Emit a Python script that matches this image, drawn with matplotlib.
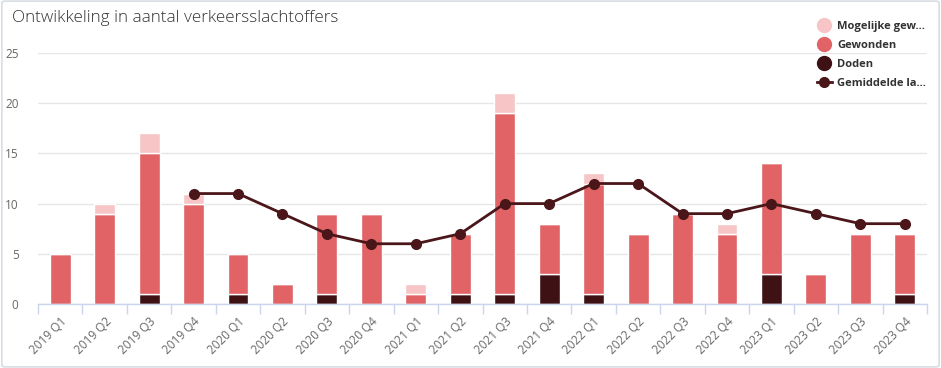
import matplotlib
matplotlib.use('Agg')
import matplotlib.pyplot as plt
from matplotlib.patches import FancyBboxPatch
from matplotlib.lines import Line2D
import numpy as np

plt.rcParams['font.family'] = 'Open Sans'

quarters = ['2019 Q1', '2019 Q2', '2019 Q3', '2019 Q4',
            '2020 Q1', '2020 Q2', '2020 Q3', '2020 Q4',
            '2021 Q1', '2021 Q2', '2021 Q3', '2021 Q4',
            '2022 Q1', '2022 Q2', '2022 Q3', '2022 Q4',
            '2023 Q1', '2023 Q2', '2023 Q3', '2023 Q4']
doden = [0, 0, 1, 0, 1, 0, 1, 0, 0, 1, 1, 3, 1, 0, 0, 0, 3, 0, 0, 1]
gewonden = [5, 9, 14, 10, 4, 2, 8, 9, 1, 6, 18, 5, 11, 7, 9, 7, 11, 3, 7, 6]
mogelijk = [0, 1, 2, 1, 0, 0, 0, 0, 1, 0, 2, 0, 1, 0, 0, 1, 0, 0, 0, 0]
# rolling average starts at 2019 Q4
gemiddelde = [None, None, None, 11, 11, 9, 7, 6, 6, 7, 10, 10, 12, 12, 9, 9, 10, 9, 8, 8]

C_MOG = '#f8c5c7'
C_GEW = '#e16365'
C_DOD = '#3e1215'
C_LINE = '#4a1619'
AXIS_C = '#ccd6eb'

fig = plt.figure(figsize=(9.41, 3.68), dpi=100)
fig.patches.append(FancyBboxPatch((0.002, 0.003), 0.996, 0.994,
                                  boxstyle='round,pad=0,rounding_size=0.004',
                                  transform=fig.transFigure, fc='white',
                                  ec='#d8dde3', lw=1.2, zorder=-1))
ax = fig.add_axes([38 / 941, 1 - 304 / 368, (927 - 38) / 941, (304 - 53) / 368])
ax.set_facecolor('none')

x = np.arange(len(quarters))
d = np.array(doden)
g = np.array(gewonden)
m = np.array(mogelijk)
w = 0.47
kw = dict(width=w, edgecolor='white', linewidth=1, zorder=2)
ax.bar(x, d, color=C_DOD, **kw)
ax.bar(x, g, bottom=d, color=C_GEW, **kw)
ax.bar(x, m, bottom=d + g, color=C_MOG, **kw)

gx = [i for i, v in enumerate(gemiddelde) if v is not None]
gy = [v for v in gemiddelde if v is not None]
ax.plot(gx, gy, color=C_LINE, lw=2, marker='o', ms=7, zorder=4)

ax.set_xlim(-0.5, len(quarters) - 0.5)
ax.set_ylim(0, 25)
ax.set_yticks([0, 5, 10, 15, 20, 25])
ax.grid(axis='y', color='#e6e6e6', lw=1, zorder=0)
ax.set_axisbelow(True)
for s in ['top', 'right', 'left']:
    ax.spines[s].set_visible(False)
ax.spines['bottom'].set_color(AXIS_C)
ax.spines['bottom'].set_linewidth(1)

ax.set_xticks(x)
ax.set_xticklabels(quarters, rotation=45, ha='right', va='top',
                   rotation_mode='anchor', fontsize=8.5, color='#666666')
ax.tick_params(axis='x', which='major', length=0, pad=8)
ax.set_xticks(np.arange(-0.5, len(quarters)), minor=True)
ax.tick_params(axis='x', which='minor', length=7, color=AXIS_C, width=1)
ax.tick_params(axis='y', length=0, labelsize=8.5, labelcolor='#666666', pad=14)

fig.text(12 / 941, 1 - 18 / 368, 'Ontwikkeling in aantal verkeersslachtoffers',
         fontsize=12.3, color='#333333', va='center', ha='left', fontweight='light')

handles = [
    Line2D([], [], ls='none', marker='o', ms=10, color=C_MOG),
    Line2D([], [], ls='none', marker='o', ms=10, color=C_GEW),
    Line2D([], [], ls='none', marker='o', ms=10, color=C_DOD),
    Line2D([], [], color=C_LINE, lw=2, marker='o', ms=7),
]
labels = ['Mogelijke gew...', 'Gewonden', 'Doden', 'Gemiddelde la...']
leg = fig.legend(handles, labels, loc='upper right', bbox_to_anchor=(926 / 941, 1 - 21 / 368),
                 frameon=False, prop={'size': 8, 'weight': 'bold'},
                 handlelength=1.3, handletextpad=0.5, labelspacing=0.72,
                 borderaxespad=0, borderpad=0)
for t in leg.get_texts():
    t.set_color('#333333')

fig.savefig('out.png', dpi=100)
